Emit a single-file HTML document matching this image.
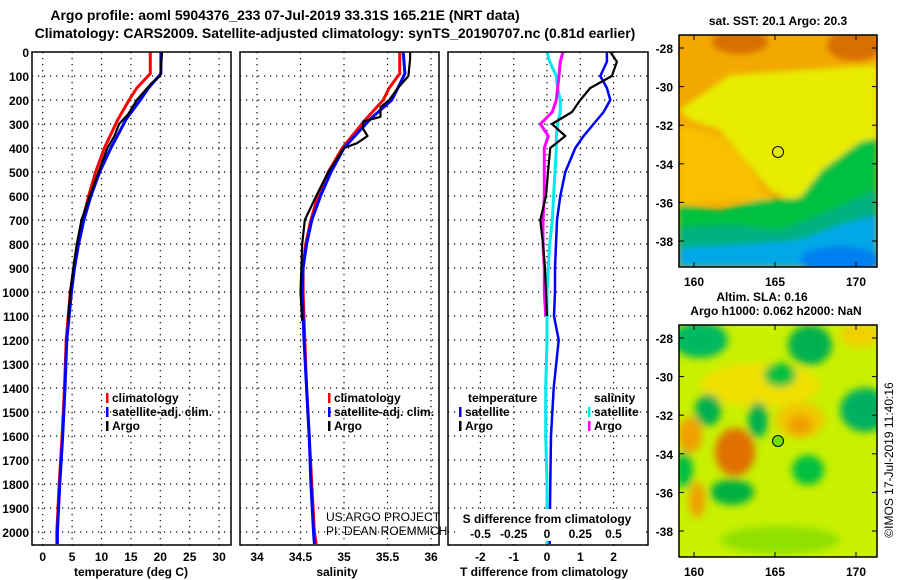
<!DOCTYPE html>
<html><head><meta charset="utf-8"><style>
body{margin:0;background:#fff}
svg{display:block;font-family:"Liberation Sans",sans-serif;font-weight:bold}
</style></head><body>
<svg id="c" width="900" height="580" viewBox="0 0 900 580" xmlns="http://www.w3.org/2000/svg">
<defs>
<filter id="bl" x="-20%" y="-20%" width="140%" height="140%"><feGaussianBlur stdDeviation="3"/></filter>
<filter id="bl2" x="-20%" y="-20%" width="140%" height="140%"><feGaussianBlur stdDeviation="4"/></filter>
<clipPath id="m1"><rect x="679" y="35" width="198" height="232"/></clipPath>
<clipPath id="m2"><rect x="679" y="325" width="198" height="232"/></clipPath>
</defs>
<text x="285" y="20" font-size="14" text-anchor="middle">Argo profile: aoml 5904376_233 07-Jul-2019 33.31S 165.21E (NRT data)</text>
<text x="335" y="38" font-size="14" text-anchor="middle">Climatology: CARS2009. Satellite-adjusted climatology: synTS_20190707.nc (0.81d earlier)</text>

<g id="maps">
<text x="778" y="25" font-size="12" text-anchor="middle">sat. SST: 20.1 Argo: 20.3</text>
<g clip-path="url(#m1)">
<rect x="679" y="35" width="198" height="232" fill="#f2a800"/>
<g filter="url(#bl)">
<ellipse cx="740" cy="42" rx="28" ry="12" fill="#d87000"/>
<ellipse cx="855" cy="45" rx="28" ry="16" fill="#d87000"/>
<polygon points="730,75 877,65 877,145 835,170 818,190 790,200 770,190 745,160 720,130 690,120 679,110" fill="#e8ec00"/>
<polygon points="679,125 720,135 745,160 760,185 772,200 679,205" fill="#f8c000"/>
<polygon points="679,205 720,210 760,200 800,198 822,170 860,142 877,138 877,267 679,267" fill="#00c040"/>
<polygon points="679,228 730,225 780,230 820,215 877,190 877,267 679,267" fill="#00b080"/>
<polygon points="679,248 740,245 800,240 840,225 877,215 877,267 679,267" fill="#00a8e8"/>
<ellipse cx="840" cy="260" rx="40" ry="14" fill="#0080f0"/>
</g>
<circle cx="778" cy="152" r="5.5" fill="none" stroke="#000" stroke-width="1"/>
</g>
<rect x="679" y="35" width="198" height="232" fill="none" stroke="#000" stroke-width="1.5"/>
<text x="762" y="301" font-size="12" text-anchor="middle">Altim. SLA: 0.16</text>
<text x="776" y="315" font-size="12" text-anchor="middle">Argo h1000: 0.062 h2000: NaN</text>
<g clip-path="url(#m2)">
<rect x="679" y="325" width="198" height="232" fill="#c8f000"/>
<g filter="url(#bl2)">
<ellipse cx="760" cy="385" rx="60" ry="22" fill="#f0e000"/>
<ellipse cx="800" cy="420" rx="25" ry="18" fill="#f0c800"/>
<ellipse cx="700" cy="340" rx="28" ry="18" fill="#00b860"/>
<ellipse cx="810" cy="345" rx="22" ry="20" fill="#00b050"/>
<ellipse cx="780" cy="375" rx="16" ry="12" fill="#00c040"/>
<ellipse cx="708" cy="410" rx="13" ry="16" fill="#00b050"/>
<ellipse cx="758" cy="420" rx="10" ry="18" fill="#00b050"/>
<ellipse cx="865" cy="410" rx="25" ry="22" fill="#00b060"/>
<ellipse cx="690" cy="435" rx="12" ry="18" fill="#f0a000"/>
<ellipse cx="735" cy="452" rx="20" ry="24" fill="#e07000"/>
<ellipse cx="800" cy="425" rx="12" ry="11" fill="#f0a000"/>
<ellipse cx="732" cy="492" rx="22" ry="13" fill="#00b040"/>
<ellipse cx="808" cy="470" rx="16" ry="15" fill="#00c040"/>
<ellipse cx="697" cy="500" rx="8" ry="18" fill="#f0a000"/>
<ellipse cx="684" cy="470" rx="9" ry="18" fill="#00c040"/>
<ellipse cx="860" cy="335" rx="20" ry="12" fill="#f0d000"/>
<ellipse cx="780" cy="540" rx="60" ry="14" fill="#90e000"/>
</g>
<circle cx="778" cy="441" r="5.5" fill="#70e000" stroke="#000" stroke-width="1"/>
</g>
<rect x="679" y="325" width="198" height="232" fill="none" stroke="#000" stroke-width="1.5"/>
<text transform="translate(893,460) rotate(-90)" font-size="12" font-weight="normal" text-anchor="middle">©IMOS 17-Jul-2019 11:40:16</text>
</g>
</svg>
<script>
const depthTicks=[0,100,200,300,400,500,600,700,800,900,1000,1100,1200,1300,1400,1500,1600,1700,1800,1900,2000];
const tempTicks=[0,5,10,15,20,25,30];
const salTicks=[34,34.5,35,35.5,36];
const dTTicks=[-2,-1,0,1,2];
const dSTicks=[-0.5,-0.25,0,0.25,0.5];
const latTicks=[-28,-30,-32,-34,-36,-38];
const lonTicks=[160,165,170];
const tempClimDepth=[0,90,150,200,280,400,500,600,700,800,900,1000,1200,1400,1600,1800,2000,2050];
const tempClim=[18.3,18.3,16,14.7,12.8,10.5,9,7.8,6.8,6,5.3,4.7,4.0,3.7,3.3,2.8,2.4,2.4];
const tempSat=[20.1,20.1,18,16.6,14.2,11.6,9.7,8.2,7.0,6.1,5.4,4.9,4.1,3.8,3.4,2.9,2.5,2.5];
const tempArgoDepth=[0,100,130,200,260,300,350,400,500,600,700,800,900,1000,1120];
const tempArgo=[20.3,20.0,18.5,16,14.5,13,12.2,11,9.5,8,6.6,5.8,5.2,4.7,4.3];
const salClim=[35.64,35.64,35.52,35.45,35.25,34.98,34.82,34.7,34.62,34.56,34.53,34.53,34.55,34.57,34.6,34.63,34.66,34.68];
const salSat=[35.68,35.7,35.62,35.55,35.3,35.0,34.85,34.73,34.63,34.57,34.53,34.52,34.54,34.57,34.6,34.62,34.65,34.66];
const salArgoDepth=[0,30,100,150,200,230,270,290,320,350,380,400,500,600,700,800,900,1000,1120];
const salArgo=[35.76,35.76,35.74,35.62,35.52,35.42,35.42,35.22,35.22,35.27,35.15,35.0,34.82,34.68,34.55,34.52,34.51,34.5,34.52];
const diffDepth=[0,40,100,150,200,250,300,350,400,500,600,700,800,900,1000,1100,1200,1400,1600,1800,2000,2050];
const dTSat=[1.8,1.8,1.6,1.8,1.9,1.7,1.4,1.1,0.85,0.55,0.4,0.3,0.27,0.24,0.24,0.21,0.35,0.2,0.12,0.1,0.08,0.08];
const dSSat=[0,0.02,0.07,0.08,0.1,0.1,0.08,0.07,0.07,0.06,0.05,0.04,0.02,0.01,0,0,0,-0.01,-0.01,0,0,0];
const argoDiffDepth=[0,40,100,150,200,250,300,350,400,500,600,700,800,900,1000,1100];
const dTArgo=[1.9,2.1,1.95,1.3,1.0,0.75,0.15,0.55,0.1,0.03,-0.03,-0.2,-0.12,-0.06,-0.03,0];
const dSArgo=[0.12,0.1,0.09,0.08,0.07,0.04,-0.05,0.01,-0.02,-0.02,-0.02,-0.03,-0.03,-0.02,-0.02,-0.01];

const svg=document.getElementById('c');
const NS='http://www.w3.org/2000/svg';
function mk(tag,at,parent){const e=document.createElementNS(NS,tag);for(const k in at)e.setAttribute(k,at[k]);(parent||svg).appendChild(e);return e;}
const Y0=52,Y1=545;
const yD=d=>Y0+d*0.24;
const panels=[
 {x0:32,x1:231,sx:v=>42.7+5.88*v,ticks:tempTicks,name:'temperature-panel',title:'temperature (deg C)',tx:131},
 {x0:240,x1:439,sx:v=>257+87*(v-34),ticks:salTicks,name:'salinity-panel',title:'salinity',tx:337},
 {x0:448,x1:648,sx:v=>547+33.3*v,ticks:dTTicks,name:'difference-panel',title:'T difference from climatology',tx:544}
];
const sS=v=>547+133*v;
panels.forEach((p,i)=>{
 const g=mk('g',{});
 
 
 depthTicks.forEach(d=>{if(d>0)mk('line',{x1:p.x0,x2:p.x1,y1:yD(d),y2:yD(d),stroke:'#000','stroke-width':1.2,'stroke-dasharray':'1.2 4.8'},g);});
 p.ticks.forEach(t=>{mk('line',{x1:p.sx(t),x2:p.sx(t),y1:Y0,y2:Y1,stroke:'#000','stroke-width':1.2,'stroke-dasharray':'1.2 4.8'},g);
  const tl=mk('text',{x:p.sx(t),y:561,'font-size':12,'text-anchor':'middle'},g);tl.textContent=t;
  
  });
 const tt=mk('text',{x:p.tx,y:576,'font-size':12,'text-anchor':'middle'},g);tt.textContent=p.title;
 
 
});
depthTicks.forEach(d=>{const t=mk('text',{x:29,y:yD(d)+5,'font-size':12,'text-anchor':'end'});t.textContent=d;
 
 });
function line(depths,vals,sx,col,w,name){
 const pts=depths.map((d,i)=>sx(vals[i]).toFixed(1)+','+yD(d).toFixed(1)).join(' ');
 const e=mk('polyline',{points:pts,fill:'none',stroke:col,'stroke-width':w,'stroke-linejoin':'round'});
 
 
}
const P=panels;
line(tempClimDepth,tempClim,P[0].sx,'#f00',3,'temp-climatology-line');
line(tempClimDepth,tempSat,P[0].sx,'#00f',3,'temp-satellite-line');
line(tempArgoDepth,tempArgo,P[0].sx,'#000',2.2,'temp-argo-line');
line(tempClimDepth,salClim,P[1].sx,'#f00',3,'sal-climatology-line');
line(tempClimDepth,salSat,P[1].sx,'#00f',3,'sal-satellite-line');
line(salArgoDepth,salArgo,P[1].sx,'#000',2.2,'sal-argo-line');
line(diffDepth,dSSat,sS,'#00e8f0',3,'sal-diff-satellite-line');
line(diffDepth,dTSat,P[2].sx,'#00f',2.5,'temp-diff-satellite-line');
line(argoDiffDepth,dSArgo,sS,'#f0f',3,'sal-diff-argo-line');
line(argoDiffDepth,dTArgo,P[2].sx,'#000',2.2,'temp-diff-argo-line');
panels.forEach(p=>mk('rect',{x:p.x0,y:Y0,width:p.x1-p.x0,height:Y1-Y0,fill:'none',stroke:'#000','stroke-width':1.5}));
mk('rect',{x:455,y:509,width:188,height:32,fill:'#fff'});
dSTicks.forEach(t=>{const e=mk('text',{x:sS(t),y:538,'font-size':12,'text-anchor':'middle'});e.textContent=t;
 
 });
const st=mk('text',{x:547,y:523,'font-size':12,'text-anchor':'middle'});st.textContent='S difference from climatology';


function leg(x,y,col,label,name){mk('rect',{x:x,y:y-9,width:2.5,height:10,fill:col});
 const t=mk('text',{x:x+6,y:y,'font-size':12});t.textContent=label;
 
 }
[[106,'temp'],[328,'sal']].forEach(([x,n])=>{leg(x,402,'#f00','climatology',n+'-legend-climatology');leg(x,416,'#00f','satellite-adj. clim.',n+'-legend-satellite');leg(x,430,'#000','Argo',n+'-legend-argo');});
const th=mk('text',{x:468,y:402,'font-size':12});th.textContent='temperature';


leg(459,416,'#00f','satellite','diff-legend-temp-satellite');leg(459,430,'#000','Argo','diff-legend-temp-argo');
const sh=mk('text',{x:594,y:402,'font-size':12});sh.textContent='salinity';


leg(588,416,'#00e8f0','satellite','diff-legend-sal-satellite');leg(588,430,'#f0f','Argo','diff-legend-sal-argo');
const c1=mk('text',{x:326,y:521,'font-size':12,'font-weight':'normal'});c1.textContent='US ARGO PROJECT';


const c2=mk('text',{x:326,y:535,'font-size':12,'font-weight':'normal'});c2.textContent='PI: DEAN ROEMMICH';


const latY=(lat,top)=>top+13+(-28-lat)*19.3;
const lonX=lon=>694+(lon-160)*16.2;
[35,325].forEach((top,mi)=>{
 latTicks.forEach(l=>{const y=latY(l,top);mk('line',{x1:679,x2:684,y1:y,y2:y,stroke:'#000'});mk('line',{x1:872,x2:877,y1:y,y2:y,stroke:'#000'});
  const t=mk('text',{x:673,y:y+5,'font-size':12,'text-anchor':'end'});t.textContent=l;
  
  });
 lonTicks.forEach(l=>{const x=lonX(l);mk('line',{x1:x,x2:x,y1:top,y2:top+5,stroke:'#000'});mk('line',{x1:x,x2:x,y1:top+227,y2:top+232,stroke:'#000'});
  const t=mk('text',{x:x,y:top+251,'font-size':12,'text-anchor':'middle'});t.textContent=l;
  
  });
});
</script>
</body></html>
